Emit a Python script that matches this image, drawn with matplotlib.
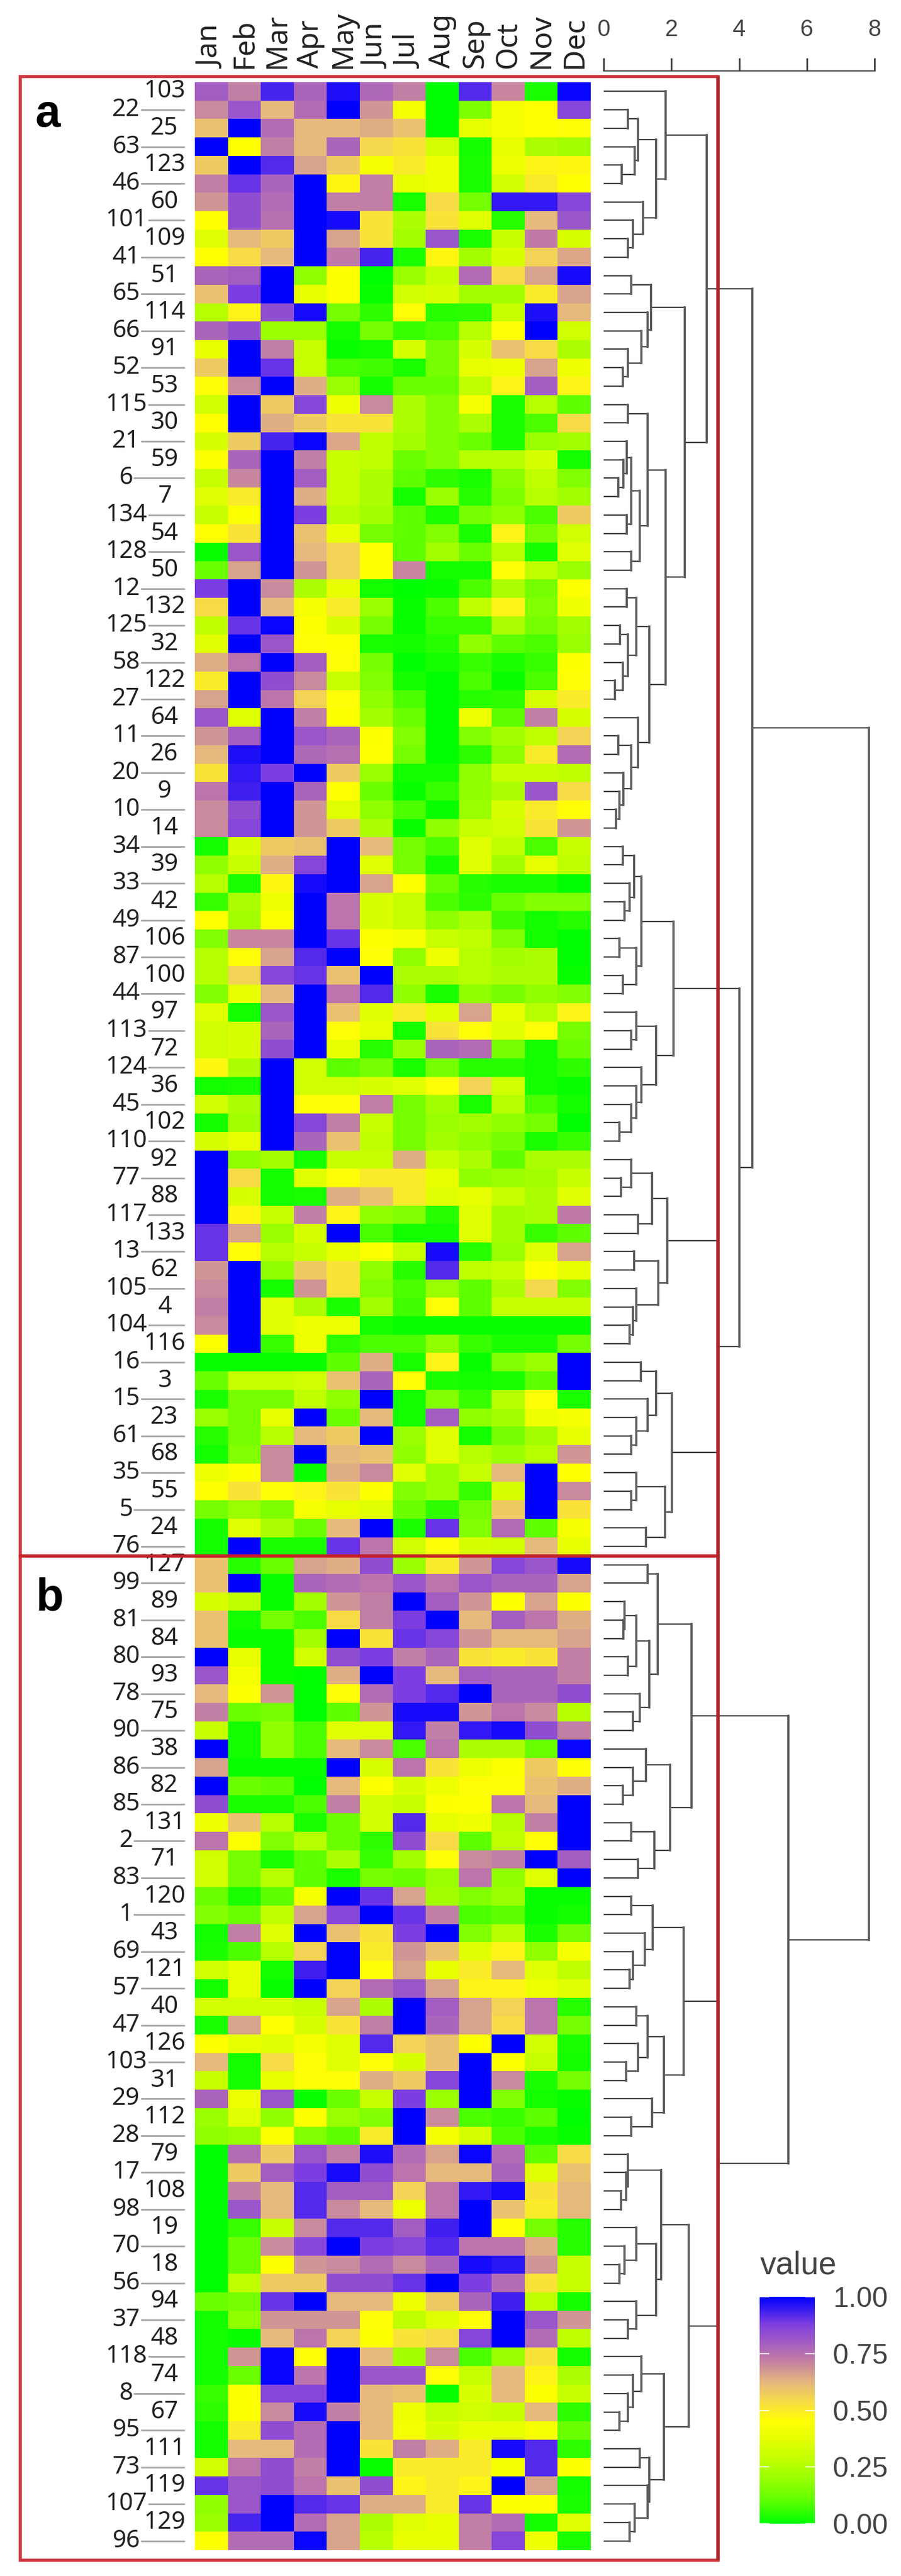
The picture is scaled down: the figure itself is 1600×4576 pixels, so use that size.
"""
月度热图 + 右侧聚类树 (a / b 两组)
数值都是从原图上读出来的,单位是 1/100
"""
import numpy as np
import matplotlib
matplotlib.use("Agg")
import matplotlib.pyplot as plt
from matplotlib.colors import LinearSegmentedColormap
from matplotlib.patches import Rectangle

W, H = 1600, 4576

months = ["Jan", "Feb", "Mar", "Apr", "May", "Jun", "Jul", "Aug", "Sep", "Oct", "Nov", "Dec"]

labels_a = [103, 22, 25, 63, 123, 46, 60, 101, 109, 41, 51, 65, 114, 66, 91, 52, 53, 115, 30, 21,
            59, 6, 7, 134, 54, 128, 50, 12, 132, 125, 32, 58, 122, 27, 64, 11, 26, 20, 9, 10,
            14, 34, 39, 33, 42, 49, 106, 87, 100, 44, 97, 113, 72, 124, 36, 45, 102, 110, 92, 77,
            88, 117, 133, 13, 62, 105, 4, 104, 116, 16, 3, 15, 23, 61, 68, 35, 55, 5, 24, 76]
labels_b = [127, 99, 89, 81, 84, 80, 93, 78, 75, 90, 38, 86, 82, 85, 131, 2, 71, 83, 120, 1,
            43, 69, 121, 57, 40, 47, 126, 103, 31, 29, 112, 28, 79, 17, 108, 98, 19, 70, 18, 56,
            94, 37, 48, 118, 74, 8, 67, 95, 111, 73, 119, 107, 129, 96]

values_a = [
    [80, 72, 93, 78, 97, 77, 72, 0, 92, 71, 3, 99],
    [70, 82, 62, 76, 100, 68, 42, 0, 15, 42, 45, 86],
    [60, 100, 76, 62, 62, 64, 60, 0, 38, 42, 45, 46],
    [100, 45, 72, 62, 78, 55, 52, 33, 2, 38, 24, 22],
    [58, 100, 92, 66, 58, 42, 50, 40, 3, 40, 48, 47],
    [72, 90, 78, 100, 47, 72, 38, 40, 3, 32, 50, 45],
    [68, 84, 76, 100, 72, 72, 3, 54, 14, 95, 95, 86],
    [45, 84, 75, 100, 98, 52, 24, 52, 36, 4, 62, 82],
    [36, 62, 58, 100, 66, 52, 22, 82, 3, 30, 73, 34],
    [45, 54, 62, 100, 73, 93, 3, 47, 22, 34, 56, 65],
    [78, 80, 100, 18, 44, 0, 20, 30, 76, 54, 66, 98],
    [60, 88, 100, 38, 44, 1, 32, 34, 22, 22, 50, 66],
    [26, 48, 84, 98, 14, 5, 46, 4, 5, 30, 97, 62],
    [78, 84, 20, 20, 2, 14, 6, 8, 26, 46, 100, 32],
    [38, 100, 72, 30, 1, 2, 34, 14, 34, 60, 54, 24],
    [58, 100, 90, 30, 8, 7, 3, 14, 38, 40, 66, 40],
    [46, 70, 100, 64, 20, 2, 12, 12, 28, 48, 80, 48],
    [32, 100, 58, 86, 40, 70, 24, 16, 42, 3, 26, 10],
    [45, 100, 64, 58, 52, 52, 24, 16, 24, 3, 8, 54],
    [34, 58, 93, 99, 65, 28, 22, 16, 12, 3, 20, 22],
    [44, 78, 100, 72, 30, 28, 12, 16, 26, 26, 34, 2],
    [30, 71, 100, 80, 30, 24, 10, 5, 3, 17, 28, 16],
    [36, 50, 100, 64, 30, 24, 2, 20, 4, 15, 26, 22],
    [30, 44, 100, 88, 26, 22, 10, 3, 14, 18, 8, 58],
    [45, 52, 100, 60, 38, 14, 10, 16, 3, 48, 14, 32],
    [1, 82, 100, 62, 56, 45, 10, 22, 12, 26, 2, 36],
    [12, 66, 100, 68, 56, 45, 71, 2, 2, 46, 28, 20],
    [88, 100, 70, 24, 38, 2, 0, 1, 8, 24, 14, 44],
    [54, 100, 62, 42, 50, 20, 1, 8, 28, 48, 16, 40],
    [28, 90, 99, 44, 34, 14, 1, 6, 6, 24, 14, 22],
    [36, 100, 82, 46, 45, 3, 2, 4, 18, 10, 8, 20],
    [64, 74, 100, 80, 46, 14, 0, 2, 6, 3, 6, 44],
    [50, 100, 84, 70, 30, 16, 2, 0, 8, 1, 8, 46],
    [66, 100, 74, 56, 46, 18, 8, 0, 4, 5, 34, 50],
    [82, 36, 100, 72, 44, 22, 12, 0, 40, 10, 72, 34],
    [68, 80, 100, 82, 78, 44, 16, 0, 16, 22, 28, 56],
    [62, 97, 100, 77, 75, 45, 14, 0, 5, 18, 50, 76],
    [52, 95, 88, 100, 58, 20, 2, 2, 18, 30, 30, 28],
    [74, 94, 100, 78, 45, 12, 1, 6, 18, 24, 82, 54],
    [70, 84, 100, 68, 36, 18, 8, 1, 20, 34, 50, 46],
    [70, 86, 100, 68, 58, 24, 1, 18, 30, 32, 52, 68],
    [2, 34, 58, 60, 100, 62, 14, 8, 36, 28, 8, 30],
    [18, 30, 64, 86, 100, 36, 14, 2, 36, 22, 38, 28],
    [26, 3, 47, 98, 100, 66, 44, 12, 4, 3, 3, 0],
    [6, 24, 40, 100, 74, 34, 30, 8, 5, 12, 16, 16],
    [45, 22, 44, 100, 74, 34, 30, 18, 24, 7, 2, 4],
    [16, 71, 71, 100, 90, 44, 42, 30, 28, 16, 2, 0],
    [26, 46, 66, 92, 100, 46, 18, 40, 26, 22, 24, 0],
    [26, 56, 86, 90, 60, 100, 24, 24, 26, 24, 24, 1],
    [16, 38, 62, 100, 74, 92, 18, 3, 18, 14, 18, 16],
    [36, 2, 82, 100, 60, 36, 50, 36, 66, 38, 26, 48],
    [32, 34, 78, 100, 46, 38, 2, 52, 46, 36, 46, 14],
    [32, 34, 84, 100, 38, 4, 20, 78, 76, 14, 2, 12],
    [47, 24, 100, 32, 10, 14, 3, 14, 4, 4, 2, 5],
    [2, 3, 100, 32, 32, 34, 36, 46, 56, 32, 2, 1],
    [32, 24, 100, 46, 46, 72, 14, 22, 3, 26, 8, 2],
    [2, 22, 100, 86, 72, 30, 14, 20, 22, 18, 14, 0],
    [34, 38, 100, 78, 60, 28, 14, 22, 18, 14, 3, 6],
    [100, 18, 22, 2, 30, 30, 64, 30, 24, 10, 24, 24],
    [100, 54, 2, 36, 46, 50, 50, 38, 18, 20, 22, 30],
    [100, 34, 2, 3, 64, 60, 50, 36, 38, 30, 24, 36],
    [100, 47, 30, 72, 48, 18, 16, 4, 36, 22, 24, 73],
    [90, 66, 20, 34, 100, 8, 2, 2, 36, 22, 6, 10],
    [90, 46, 26, 30, 38, 44, 30, 98, 4, 20, 36, 66],
    [68, 100, 18, 58, 52, 18, 4, 92, 28, 30, 44, 38],
    [70, 100, 2, 68, 52, 16, 8, 20, 10, 24, 55, 16],
    [72, 100, 36, 24, 3, 22, 7, 46, 10, 30, 30, 30],
    [70, 100, 36, 40, 40, 2, 1, 1, 1, 1, 1, 1],
    [44, 100, 6, 40, 5, 8, 8, 18, 6, 3, 3, 14],
    [1, 1, 1, 1, 10, 64, 3, 48, 1, 16, 20, 100],
    [12, 30, 30, 32, 60, 78, 46, 3, 2, 3, 10, 100],
    [3, 14, 14, 28, 18, 100, 2, 16, 6, 26, 46, 3],
    [20, 14, 38, 100, 12, 62, 2, 80, 18, 22, 40, 42],
    [4, 14, 26, 62, 58, 100, 20, 36, 2, 14, 22, 38],
    [2, 16, 70, 100, 62, 60, 18, 36, 26, 20, 26, 68],
    [40, 44, 70, 1, 64, 70, 36, 20, 30, 62, 100, 45],
    [45, 52, 46, 48, 52, 44, 16, 20, 6, 34, 100, 70],
    [14, 20, 15, 42, 38, 36, 12, 5, 14, 58, 100, 52],
    [2, 36, 24, 12, 62, 100, 3, 90, 16, 76, 10, 42],
    [2, 100, 3, 3, 90, 74, 32, 46, 34, 32, 62, 38],
]

values_b = [
    [60, 4, 12, 66, 64, 84, 20, 50, 68, 86, 82, 98],
    [60, 100, 1, 78, 76, 74, 82, 74, 82, 78, 78, 66],
    [34, 28, 1, 22, 68, 72, 100, 80, 68, 44, 66, 44],
    [60, 2, 14, 8, 54, 72, 88, 100, 62, 80, 74, 64],
    [60, 1, 1, 22, 100, 52, 90, 86, 68, 62, 62, 66],
    [100, 38, 1, 32, 84, 88, 72, 78, 52, 50, 52, 72],
    [82, 42, 1, 0, 64, 100, 88, 62, 80, 78, 78, 72],
    [62, 44, 68, 0, 46, 76, 88, 92, 100, 78, 78, 84],
    [72, 12, 14, 0, 10, 68, 98, 98, 68, 74, 70, 26],
    [30, 2, 18, 8, 36, 36, 95, 72, 95, 98, 84, 72],
    [100, 2, 18, 8, 62, 70, 8, 74, 24, 24, 12, 99],
    [66, 1, 1, 1, 100, 34, 74, 52, 40, 44, 58, 46],
    [100, 12, 10, 0, 62, 44, 34, 40, 46, 46, 60, 64],
    [84, 3, 3, 8, 72, 32, 30, 44, 45, 74, 62, 100],
    [40, 60, 26, 3, 12, 32, 92, 38, 40, 26, 72, 100],
    [74, 44, 16, 26, 12, 5, 84, 54, 10, 28, 46, 100],
    [32, 14, 3, 10, 24, 6, 22, 46, 70, 72, 100, 80],
    [32, 14, 26, 10, 3, 14, 12, 20, 74, 18, 36, 100],
    [12, 3, 10, 42, 100, 90, 66, 22, 16, 20, 1, 1],
    [16, 12, 28, 66, 86, 100, 90, 72, 8, 10, 1, 2],
    [2, 72, 36, 100, 60, 52, 88, 100, 16, 26, 3, 14],
    [3, 8, 26, 56, 100, 50, 68, 60, 36, 48, 18, 42],
    [32, 38, 2, 94, 100, 46, 66, 38, 50, 62, 36, 28],
    [2, 38, 1, 100, 56, 76, 82, 66, 48, 48, 40, 36],
    [32, 32, 32, 30, 66, 24, 100, 80, 66, 56, 74, 4],
    [3, 66, 45, 34, 52, 72, 100, 78, 66, 54, 74, 14],
    [44, 38, 36, 42, 36, 92, 56, 60, 44, 100, 32, 3],
    [62, 2, 54, 46, 36, 46, 34, 60, 100, 44, 30, 2],
    [30, 2, 38, 46, 46, 64, 58, 86, 100, 70, 3, 14],
    [78, 40, 82, 1, 12, 30, 88, 20, 100, 16, 2, 1],
    [20, 36, 18, 44, 20, 16, 100, 70, 8, 6, 10, 0],
    [18, 20, 44, 16, 10, 50, 100, 42, 34, 8, 3, 1],
    [0, 76, 58, 82, 72, 97, 76, 66, 99, 76, 10, 54],
    [0, 58, 80, 88, 98, 84, 74, 62, 62, 78, 36, 60],
    [0, 72, 62, 92, 80, 80, 56, 74, 95, 98, 52, 62],
    [0, 82, 62, 92, 70, 62, 40, 74, 100, 60, 50, 62],
    [0, 6, 30, 70, 92, 92, 80, 94, 100, 46, 14, 4],
    [0, 12, 70, 86, 100, 88, 86, 92, 74, 74, 64, 4],
    [0, 12, 44, 68, 70, 76, 70, 78, 98, 96, 68, 30],
    [0, 28, 58, 58, 84, 84, 90, 100, 88, 76, 52, 30],
    [12, 14, 90, 100, 62, 62, 40, 58, 78, 94, 28, 2],
    [2, 18, 68, 68, 68, 46, 28, 36, 46, 100, 82, 68],
    [2, 1, 62, 74, 56, 44, 52, 54, 86, 100, 76, 28],
    [2, 68, 99, 46, 100, 62, 22, 70, 8, 20, 52, 2],
    [2, 12, 99, 74, 100, 82, 82, 46, 30, 62, 48, 24],
    [6, 44, 86, 86, 100, 62, 60, 1, 34, 62, 44, 30],
    [5, 44, 70, 98, 72, 62, 40, 30, 32, 30, 62, 5],
    [2, 50, 84, 76, 100, 62, 42, 34, 38, 38, 42, 12],
    [2, 62, 62, 76, 100, 52, 72, 64, 50, 98, 92, 5],
    [32, 74, 84, 72, 100, 1, 50, 50, 50, 42, 92, 44],
    [90, 82, 84, 74, 60, 84, 48, 50, 48, 100, 66, 2],
    [18, 82, 100, 92, 90, 64, 64, 50, 90, 44, 44, 3],
    [20, 93, 100, 76, 66, 24, 36, 38, 72, 76, 2, 36],
    [44, 76, 76, 99, 66, 26, 38, 38, 72, 86, 40, 3],
]

# 聚类树: (合并高度, 子节点1, 子节点2), 整数是行号
tree_a1 = (1.83, 0, (1.55,
    (1.01, (0.71, 1, 2), (0.92, 3, (0.53, 4, 5))),
    (1.16, 6, (0.86, 7, (0.71, 8, 9)))))
tree_a2 = (1.40, (0.82, 10, 11), (1.30, 12, (1.11, 13, (0.71, 14, (0.57, 15, 16)))))
tree_a3 = (1.29, (0.71, 17, 18), (1.06,
    (0.81, (0.68, 19, (0.59, 20, (0.43, 21, 22))), (0.68, 23, 24)),
    (0.82, 25, 26)))
tree_a4 = (1.35,
    (0.96, (0.68, 27, 28), (0.71, (0.49, 29, 30), (0.57, 31, (0.33, 32, 33)))),
    (1.02, 34, (0.81, (0.43, 35, 36), (0.59, 37, (0.47, 38, (0.36, 39, 40))))))
tree_a5 = (2.07,
    (1.11, (0.90, (0.57, 41, 42), (0.76, 43, (0.62, 44, 45))), (0.96, (0.47, 46, 47), (0.57, 48, 49))),
    (1.54, (0.96, 50, (0.81, 51, 52)), (1.11, 53, (0.96, 54, (0.81, 55, (0.47, 56, 57))))))
tree_a6 = (1.88,
    (1.43, (0.82, 58, (0.52, 59, 60)), (1.01, 61, 62)),
    (1.62, (0.90, 63, 64), (0.97, 65, (0.87, 66, (0.76, 67, 68)))))
tree_a7 = (2.02,
    (1.54, (1.10, 69, 70), (1.30, 71, (0.97, 72, (0.82, 73, 74)))),
    (1.82, (0.96, 75, (0.82, 76, 77)), (1.24, 78, 79)))
tree_a = (4.39,
    (3.04, tree_a1, (2.40, tree_a2, (1.83, tree_a3, tree_a4))),
    (4.01, tree_a5, (3.36, tree_a6, tree_a7)))

tree_b1 = (1.59, (1.30, 80, 81), (1.35,
    (0.96, (0.62, 82, (0.59, 83, 84)), (0.71, 85, 86)),
    (1.06, 87, (0.87, 88, 89))))
tree_b2 = (1.97,
    (1.25, 90, (0.87, 91, (0.57, 92, 93))),
    (1.49, (0.82, 94, 95), (1.01, 96, 97)))
tree_b3 = (2.36,
    (1.45, (0.82, 98, 99), (1.21, 100, (0.86, 101, (0.76, 102, 103)))),
    (1.78, (1.29, (0.97, 104, 105), (1.01, 106, (0.66, 107, 108))), (1.43, 109, (0.82, 110, 111))))
tree_b4 = (1.69,
    (0.71, 112, (0.67, 113, (0.52, 114, 115))),
    (1.54, (0.96, 116, (0.62, 117, (0.47, 118, 119))), (0.96, 120, (0.71, 121, 122))))
tree_b5 = (1.78,
    (1.11, 123, (0.87, 124, (0.71, 125, (0.47, 126, 127)))),
    (1.34, (1.06, 128, 129), (1.30, 130, (0.92, 131, (0.76, 132, 133)))))
tree_b = (5.46, (2.60, tree_b1, tree_b2), (3.40, tree_b3, (2.51, tree_b4, tree_b5)))
tree_root = (7.83, tree_a, tree_b)

cbar_ticks = [0.0, 0.25, 0.5, 0.75, 1.0]

RED = "#C8202A"
LABEL_FONT = ["Noto Sans", "DejaVu Sans"]
R_FONT = ["Liberation Sans", "DejaVu Sans"]

cmap = LinearSegmentedColormap.from_list("rain", [
    (0.00, "#00FF00"), (0.10, "#60FF00"), (0.18, "#90FF00"), (0.28, "#C0FF00"),
    (0.36, "#E0FF00"), (0.45, "#FFFF00"), (0.53, "#F8E040"), (0.62, "#E6B97C"),
    (0.74, "#BC74AC"), (0.88, "#7F3FE0"), (1.00, "#0000FF")])


def px_axes(fig, x0, y0, x1, y1):
    return fig.add_axes([x0 / W, 1 - y1 / H, (x1 - x0) / W, (y1 - y0) / H])


def draw_tree(ax, node):
    if not isinstance(node, tuple):
        return 0.0, node + 0.5
    h, a, b = node
    xa, ya = draw_tree(ax, a)
    xb, yb = draw_tree(ax, b)
    ax.plot([xa, h], [ya, ya], color="#3a3a3a", lw=1.7, solid_capstyle="butt", zorder=2)
    ax.plot([xb, h], [yb, yb], color="#3a3a3a", lw=1.7, solid_capstyle="butt", zorder=2)
    ax.plot([h, h], [ya, yb], color="#5c5c5c", lw=2.8, solid_capstyle="projecting", zorder=3)
    return h, (ya + yb) / 2


def main():
    labels = labels_a + labels_b
    values = np.array(values_a + values_b) / 100.0
    n_rows, n_cols = values.shape

    fig = plt.figure(figsize=(W / 100, H / 100), dpi=100, facecolor="white")

    # ===== 热图 =====
    ax = px_axes(fig, 346, 146, 1049, 4530)
    ax.pcolormesh(np.arange(n_cols + 1), np.arange(n_rows + 1), values, cmap=cmap, vmin=0, vmax=1)
    ax.set_xlim(0, n_cols)
    ax.set_ylim(n_rows, 0)
    for s in ax.spines.values():
        s.set_visible(False)
    ax.set_yticks([])
    ax.xaxis.tick_top()
    ax.set_xticks(np.arange(n_cols) + 0.5)
    ax.set_xticklabels(months, rotation=90, fontsize=37, family=LABEL_FONT, color="#222222")
    ax.tick_params(axis="x", length=0, pad=18)

    # 行标签, 左右交错, 偶数行带灰色短线
    trans = ax.get_yaxis_transform()
    for i, lab in enumerate(labels):
        x_px = 292 if i % 2 == 0 else 224
        ax.text((x_px - 346) / 703, i + 0.5, str(lab), transform=trans, ha="center", va="center",
                fontsize=31, family=LABEL_FONT, color="#222222", clip_on=False)
        if i % 2 == 1:
            start = {1: 237, 2: 250, 3: 263}[len(str(lab))]
            ax.plot([(start - 346) / 703, (328 - 346) / 703], [i + 0.5, i + 0.5], transform=trans,
                    color="#A8A8A8", lw=2.2, clip_on=False, solid_capstyle="butt")

    # ===== 聚类树 =====
    ax_d = px_axes(fig, 1072, 146, 1553, 4530)
    ax_d.patch.set_alpha(0)
    draw_tree(ax_d, tree_root)
    ax_d.set_xlim(0, 8)
    ax_d.set_ylim(n_rows, 0)
    ax_d.set_yticks([])
    for name in ["left", "right", "bottom"]:
        ax_d.spines[name].set_visible(False)
    ax_d.spines["top"].set_position(("outward", 14.4))
    ax_d.spines["top"].set_linewidth(1.6)
    ax_d.spines["top"].set_color("#444444")
    ax_d.xaxis.tick_top()
    ax_d.set_xticks([0, 2, 4, 6, 8])
    ax_d.tick_params(axis="x", length=16.5, width=2.2, color="#444444", pad=22,
                     labelsize=30, labelcolor="#444444")
    for t in ax_d.get_xticklabels():
        t.set_family(R_FONT)

    # ===== 色条 =====
    ax_c = px_axes(fig, 1349, 4080, 1447, 4483)
    grad = np.linspace(0, 1, 256).reshape(-1, 1)
    ax_c.imshow(grad, cmap=cmap, vmin=0, vmax=1, origin="lower", aspect="auto", extent=[0, 1, 0, 1])
    for s in ax_c.spines.values():
        s.set_visible(False)
    ax_c.set_xticks([])
    ax_c.yaxis.tick_right()
    ax_c.set_yticks(cbar_ticks)
    ax_c.set_yticklabels([f"{v:.2f}" for v in cbar_ticks], fontsize=36, family=R_FONT, color="#444444")
    ax_c.tick_params(axis="y", length=0, pad=23)
    for v in cbar_ticks:
        ax_c.plot([0, 0.16], [v, v], color="white", lw=1.6, alpha=0.8, clip_on=True)
        ax_c.plot([0.84, 1], [v, v], color="white", lw=1.6, alpha=0.8, clip_on=True)
    ax_c.set_xlim(0, 1)
    ax_c.set_ylim(0, 1)

    # ===== 红框和 a/b 字母, 放在整页坐标里 =====
    page = fig.add_axes([0, 0, 1, 1], zorder=10)
    page.patch.set_alpha(0)
    page.set_xlim(0, W)
    page.set_ylim(H, 0)
    page.axis("off")
    page.add_patch(Rectangle((36, 136), 1239, 2628, fill=False, ec=RED, lw=4.0, alpha=0.9))
    page.add_patch(Rectangle((36, 2764), 1239, 1784, fill=False, ec=RED, lw=4.0, alpha=0.9))
    page.plot([1275, 1275], [136, 4548], color="#A8242C", lw=4.6, alpha=0.85, solid_capstyle="butt")
    page.text(85, 225, "a", ha="center", va="baseline", fontsize=58, fontweight="bold",
              family=["Liberation Sans", "DejaVu Sans"], color="black")
    page.text(88, 2860, "b", ha="center", va="baseline", fontsize=58, fontweight="bold",
              family=["Liberation Sans", "DejaVu Sans"], color="black")
    page.text(1350, 4040, "value", ha="left", va="baseline", fontsize=41,
              family=R_FONT, color="#444444")

    fig.savefig("out.png", dpi=100, facecolor="white")


if __name__ == "__main__":
    main()
